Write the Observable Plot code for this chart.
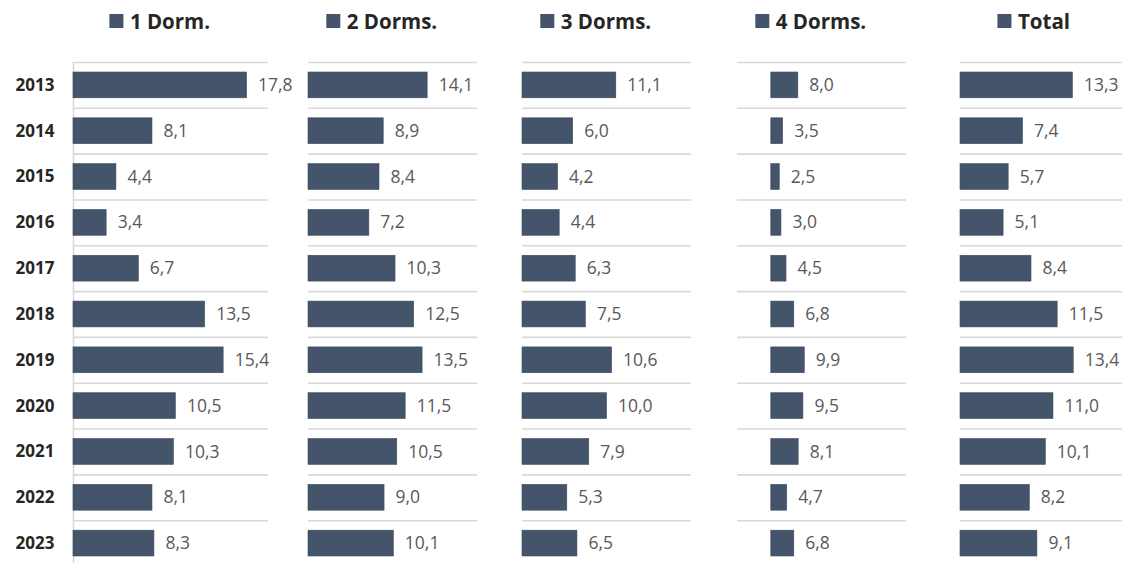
<!DOCTYPE html>
<html><head><meta charset="utf-8">
<script src="https://cdn.jsdelivr.net/npm/d3@7"></script>
<script src="https://cdn.jsdelivr.net/npm/@observablehq/plot@0.6"></script>
<style>
body{margin:0;background:#fff;font-family:"Open Sans",sans-serif;}
#chart{position:relative;width:1122px;height:563px;overflow:hidden;background:#fff;}
.panel{position:absolute;top:0;height:566px;}
.legend{position:absolute;top:7px;white-space:nowrap;display:flex;align-items:center;font-weight:700;font-size:20.5px;color:#262626;transform:translateX(-50%);line-height:28px;}
.sw{width:14px;height:14px;background:#44546a;margin-right:7px;}
.panel svg{overflow:visible;position:absolute;top:40px;left:0;}
</style></head><body><div id="chart"></div><script>
const years = ["2013","2014","2015","2016","2017","2018","2019","2020","2021","2022","2023"];
const seriesNames = ["1 Dorm.","2 Dorms.","3 Dorms.","4 Dorms.","Total"];
const dorm1 = [17.8, 8.1, 4.4, 3.4, 6.7, 13.5, 15.4, 10.5, 10.3, 8.1, 8.3];
const dorm2 = [14.1, 8.9, 8.4, 7.2, 10.3, 12.5, 13.5, 11.5, 10.5, 9.0, 10.1];
const dorm3 = [11.1, 6.0, 4.2, 4.4, 6.3, 7.5, 10.6, 10.0, 7.9, 5.3, 6.5];
const dorm4 = [8.0, 3.5, 2.5, 3.0, 4.5, 6.8, 9.9, 9.5, 8.1, 4.7, 6.8];
const total = [13.3, 7.4, 5.7, 5.1, 8.4, 11.5, 13.4, 11.0, 10.1, 8.2, 9.1];
const xDomains = [[0,20],[0,20],[0,20],[-10,40],[0,20]];

const series = [dorm1, dorm2, dorm3, dorm4, total];
const layout = [
  {left:0, marginLeft:73, plotW:195},
  {left:308, marginLeft:0, plotW:169},
  {left:522, marginLeft:0, plotW:169},
  {left:737, marginLeft:0, plotW:169},
  {left:960, marginLeft:0, plotW:169}
];
const marginTop = 22, bandH = 504;
const step = bandH / years.length;
const fmt = v => v.toFixed(1).replace(".", ",");
const chart = document.getElementById("chart");

series.forEach((vals, i) => {
  const L = layout[i];
  const rows = years.map((y, j) => ({year: y, v: vals[j]}));
  const marginRight = 40;
  const width = L.marginLeft + L.plotW + marginRight;
  const panel = document.createElement("div");
  panel.className = "panel";
  panel.style.left = L.left + "px";
  panel.style.width = width + "px";
  const leg = document.createElement("div");
  leg.className = "legend";
  leg.style.left = (L.marginLeft + L.plotW / 2 - 11) + "px";
  leg.innerHTML = `<span class="sw"></span><span>${seriesNames[i]}</span>`;
  panel.appendChild(leg);
  const marks = [
    Plot.ruleY(years, {y: d => d, dy: -step / 2, stroke: "#d9d9d9", strokeWidth: 1.6}),
    Plot.ruleY(years.slice(-1), {y: d => d, dy: step / 2, stroke: "#d9d9d9", strokeWidth: 1.6}),
    Plot.barX(rows, {x: "v", y: "year", fill: "#44546a", stroke: "#3d4c60", strokeWidth: 0.6, insetTop: 10, insetBottom: 10}),
    Plot.text(rows, {x: "v", y: "year", text: d => fmt(d.v), textAnchor: "start", dx: 11, fontSize: 17.5, fill: "#595959"})
  ];
  if (i === 0) {
    marks.unshift(Plot.ruleX([0], {stroke: "#d9d9d9", strokeWidth: 1.6}));
    marks.push(Plot.axisY({tickSize: 0, tickPadding: 19, fontSize: 17, fontWeight: "bold", fill: "#262626", label: null, tickFormat: d => d}));
  }
  const svg = Plot.plot({
    width, height: marginTop + bandH,
    marginTop, marginBottom: 0, marginLeft: L.marginLeft, marginRight,
    x: {domain: xDomains[i], axis: null},
    y: {domain: years, padding: 0, round: false, axis: null},
    style: {fontFamily: "Open Sans", overflow: "visible", background: "transparent"},
    marks
  });
  panel.appendChild(svg);
  chart.appendChild(panel);
});
</script></body></html>
